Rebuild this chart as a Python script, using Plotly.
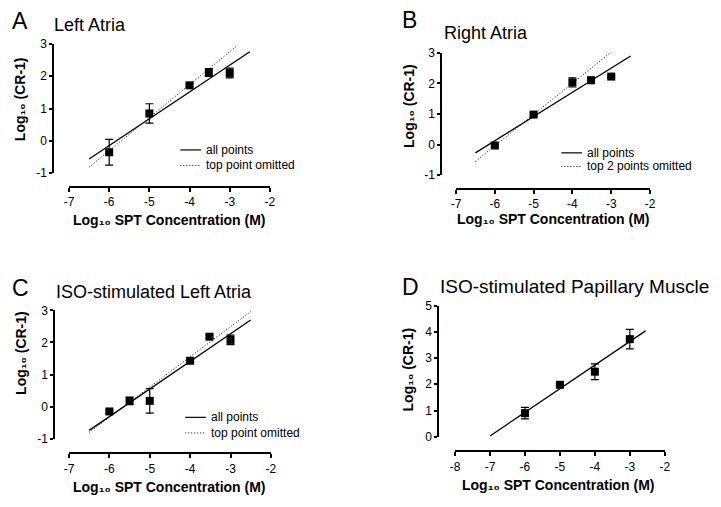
import plotly.graph_objects as go

W, H = 721, 507

# ---------------- data ----------------
# Panel A: Left Atria
a_x = [-6, -5, -4, -3.52, -3]
a_y = [-0.35, 0.85, 1.72, 2.12, 2.10]
a_err = [0.40, 0.30, 0.05, 0.12, 0.15]
a_fit_all = (0.83, 4.835, -6.5, -2.5)      # slope, intercept, x start, x end
a_fit_omit = (1.02, 5.82, -6.5, -2.8)

# Panel B: Right Atria
b_x = [-6, -5, -4, -3.52, -3]
b_y = [-0.03, 0.98, 2.03, 2.10, 2.22]
b_err = [0.04, 0.05, 0.15, 0.10, 0.04]
b_fit_all = (0.79, 4.865, -6.5, -2.5)
b_fit_omit = (1.02, 6.08, -6.5, -3.0)

# Panel C: ISO-stimulated Left Atria
c_x = [-6, -5.5, -5, -4, -3.52, -3]
c_y = [-0.15, 0.18, 0.18, 1.43, 2.18, 2.08]
c_err = [0.05, 0.12, 0.38, 0.05, 0.05, 0.15]
c_fit_all = (0.86, 4.85, -6.5, -2.5)
c_fit_omit = (0.94, 5.31, -6.5, -2.5)

# Panel D: ISO-stimulated Papillary Muscle
d_x = [-6, -5, -4, -3]
d_y = [0.90, 1.98, 2.48, 3.72]
d_err = [0.22, 0.05, 0.30, 0.37]
d_fit_all = (0.90, 6.33, -7.0, -2.55)

letters = ["A", "B", "C", "D"]
titles = ["Left Atria", "Right Atria", "ISO-stimulated Left Atria",
          "ISO-stimulated Papillary Muscle"]
legend_all = "all points"
legend_omit = ["top point omitted", "top 2 points omitted", "top point omitted", None]
xtitle = "Log₁₀ SPT Concentration (M)"
ytitle = "Log₁₀ (CR-1)"
x_ranges = [(-7, -2), (-7, -2), (-7, -2), (-8, -2)]
y_ranges = [(-1, 3), (-1, 3), (-1, 3), (0, 5)]

# ---------------- layout geometry (pixels) ----------------
# yline_x, y_top_px, y_bot_px, xline_y, x_left_px, x_right_px
geom = [
    (49, 38, 171, 185, 65, 269),
    (443, 47, 173, 187, 458, 655),
    (50, 312, 444, 459, 65, 270),
    (440, 307, 442, 457, 457, 670),
]
letter_pos = [(5, 14), (401, 13), (5, 289), (401, 288)]
title_pos = [(48, 18, 18), (444, 27, 18), (50, 293, 18), (440, 287, 19)]
ytitle_pos = [(16, 95), (410, 102), (16, 356), (409, 373)]
xtitle_pos = [(167, 219), (557, 218), (167, 494), (562, 492)]
legend_pos = [(178, 147, 16), (565, 150, 14), (183, 422, 16), None]

FONT = "Arial, Liberation Sans, sans-serif"
DOT = "1px,2px"

def px(x):
    return x / W

def py(y):
    return (H - y) / H

fig = go.Figure()

series = [
    (a_x, a_y, a_err, a_fit_all, a_fit_omit),
    (b_x, b_y, b_err, b_fit_all, b_fit_omit),
    (c_x, c_y, c_err, c_fit_all, c_fit_omit),
    (d_x, d_y, d_err, d_fit_all, None),
]

layout = dict(
    width=W, height=H, autosize=False,
    margin=dict(l=0, r=0, t=0, b=0),
    paper_bgcolor="white", plot_bgcolor="rgba(0,0,0,0)",
    showlegend=False, font=dict(family=FONT, color="black", size=12),
)
annotations = []
shapes = []

for i, (xs, ys, es, fa, fo) in enumerate(series):
    n = i + 1
    xa = "x" if n == 1 else f"x{n}"
    ya = "y" if n == 1 else f"y{n}"
    xkey = "xaxis" if n == 1 else f"xaxis{n}"
    ykey = "yaxis" if n == 1 else f"yaxis{n}"
    yl, yt, yb, xl, xlft, xrgt = geom[i]

    def fitline(f):
        s, b, x0, x1 = f
        return [x0, x1], [s * x0 + b, s * x1 + b]

    lx, ly = fitline(fa)
    fig.add_trace(go.Scatter(x=lx, y=ly, mode="lines", xaxis=xa, yaxis=ya,
                             line=dict(color="black", width=1.3)))
    if fo is not None:
        lx, ly = fitline(fo)
        fig.add_trace(go.Scatter(x=lx, y=ly, mode="lines", xaxis=xa, yaxis=ya,
                                 line=dict(color="black", width=1, dash=DOT)))
    fig.add_trace(go.Scatter(
        x=xs, y=ys, mode="markers", xaxis=xa, yaxis=ya, cliponaxis=False,
        marker=dict(symbol="square", size=8, color="black"),
        error_y=dict(type="data", array=es, visible=True, color="black",
                     thickness=1.2, width=4),
    ))

    xr = x_ranges[i]
    yr = y_ranges[i]
    layout[xkey] = dict(
        domain=[px(xlft), px(xrgt)], range=list(xr), anchor="free",
        position=py(xl), showgrid=False, zeroline=False,
        showline=True, linecolor="black", linewidth=2,
        ticks="outside", ticklen=4, tickwidth=1.5, tickcolor="black",
        tickmode="array", tickvals=list(range(xr[0], xr[1] + 1)),
        ticktext=[str(v) for v in range(xr[0], xr[1] + 1)],
        tickfont=dict(size=12, family=FONT, color="black"),
    )
    layout[ykey] = dict(
        domain=[py(yb), py(yt)], range=list(yr), anchor="free",
        position=px(yl), showgrid=False, zeroline=False,
        showline=True, linecolor="black", linewidth=2,
        ticks="outside", ticklen=3, tickwidth=1.5, tickcolor="black",
        tickmode="array", tickvals=list(range(yr[0], yr[1] + 1)),
        ticktext=[str(v) for v in range(yr[0], yr[1] + 1)],
        tickfont=dict(size=12, family=FONT, color="black"),
    )

    lxp, lyp = letter_pos[i]
    annotations.append(dict(text=letters[i], x=px(lxp), y=py(lyp), xref="paper",
                            yref="paper", xanchor="left", yanchor="middle",
                            showarrow=False, font=dict(size=23, family=FONT)))
    tx, ty, ts = title_pos[i]
    annotations.append(dict(text=titles[i], x=px(tx), y=py(ty), xref="paper",
                            yref="paper", xanchor="left", yanchor="middle",
                            showarrow=False, font=dict(size=ts, family=FONT)))
    yx, yy = ytitle_pos[i]
    annotations.append(dict(text=ytitle, x=px(yx), y=py(yy), xref="paper",
                            yref="paper", xanchor="center", yanchor="middle",
                            textangle=-90, showarrow=False,
                            font=dict(size=14, family=FONT, weight="bold")))
    xx, xy = xtitle_pos[i]
    annotations.append(dict(text=xtitle, x=px(xx), y=py(xy), xref="paper",
                            yref="paper", xanchor="center", yanchor="middle",
                            showarrow=False,
                            font=dict(size=14, family=FONT, weight="bold")))
    if legend_pos[i] is not None:
        gx, gy, gap = legend_pos[i]
        for k, (lab, dash) in enumerate([(legend_all, "solid"), (legend_omit[i], DOT)]):
            yy2 = gy + k * gap
            shapes.append(dict(type="line", xref="paper", yref="paper",
                               x0=px(gx), x1=px(gx + 21), y0=py(yy2), y1=py(yy2),
                               line=dict(color="black", width=1.2 if dash == "solid" else 1,
                                         dash=dash)))
            annotations.append(dict(text=lab, x=px(gx + 24), y=py(yy2), xref="paper",
                                    yref="paper", xanchor="left", yanchor="middle",
                                    showarrow=False, font=dict(size=12, family=FONT)))

layout["annotations"] = annotations
layout["shapes"] = shapes
fig.update_layout(**layout)
fig.write_html("out.html", config={"displayModeBar": False},
               post_script="document.body.style.margin='0';document.body.style.overflow='hidden';")
